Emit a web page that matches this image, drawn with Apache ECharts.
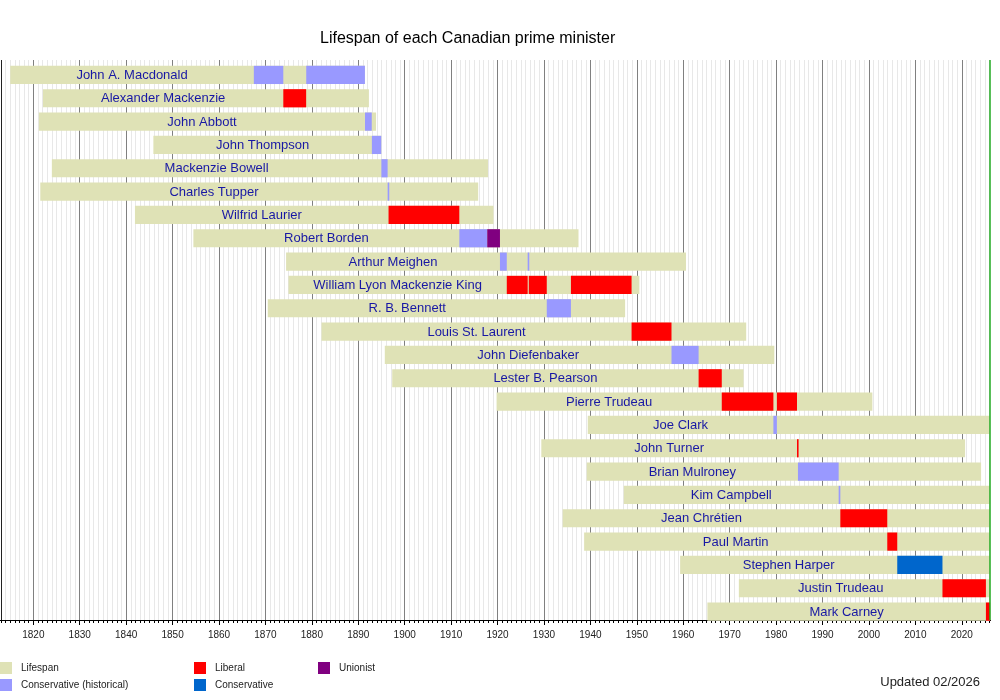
<!DOCTYPE html>
<html>
<head>
<meta charset="utf-8">
<title>Lifespan of each Canadian prime minister</title>
<script src="https://cdn.jsdelivr.net/npm/echarts@6/dist/echarts.min.js"></script>
<style>
  html, body { margin: 0; padding: 0; background: #fff; }
  #chart { width: 1000px; height: 700px; }
</style>
</head>
<body>
<div id="chart"></div>
<script>
// Prime ministers, top to bottom
const names = [
  'John A. Macdonald', 'Alexander Mackenzie', 'John Abbott', 'John Thompson',
  'Mackenzie Bowell', 'Charles Tupper', 'Wilfrid Laurier', 'Robert Borden',
  'Arthur Meighen', 'William Lyon Mackenzie King', 'R. B. Bennett', 'Louis St. Laurent',
  'John Diefenbaker', 'Lester B. Pearson', 'Pierre Trudeau', 'Joe Clark',
  'John Turner', 'Brian Mulroney', 'Kim Campbell', 'Jean Chrétien',
  'Paul Martin', 'Stephen Harper', 'Justin Trudeau', 'Mark Carney'
];

// 出生 / 去世（小数年份），null = 仍在世
const born = [
  1815.03, 1822.08, 1821.19, 1845.86, 1823.99, 1821.50, 1841.89, 1854.48,
  1874.45, 1874.96, 1870.50, 1882.08, 1895.71, 1897.31, 1919.79, 1939.43,
  1929.43, 1939.21, 1947.19, 1934.03, 1938.65, 1959.33, 1971.98, 1965.20
];
const died = [
  1891.43, 1892.29, 1893.83, 1894.95, 1917.94, 1915.83, 1919.13, 1937.44,
  1960.59, 1950.55, 1947.48, 1973.56, 1979.62, 1972.99, 2000.74, null,
  2020.72, 2024.16, null, null, null, null, null, null
];

const updated = 2026.1; // 02/2026

// Terms in office: [row, start, end]
const consHistorical = [
  [0, 1867.50, 1873.85], [0, 1878.79, 1891.43], [2, 1891.45, 1892.90],
  [3, 1892.93, 1894.95], [4, 1894.97, 1896.32], [5, 1896.33, 1896.52],
  [7, 1911.77, 1917.78], [8, 1920.52, 1921.99], [8, 1926.49, 1926.73],
  [10, 1930.60, 1935.81], [12, 1957.47, 1963.31], [15, 1979.42, 1980.17],
  [17, 1984.71, 1993.48], [18, 1993.48, 1993.84]
];
const liberal = [
  [1, 1873.85, 1878.77], [6, 1896.52, 1911.76], [9, 1921.99, 1926.49],
  [9, 1926.73, 1930.60], [9, 1935.81, 1948.87], [11, 1948.87, 1957.47],
  [13, 1963.31, 1968.30], [14, 1968.30, 1979.42], [14, 1980.17, 1984.50],
  [16, 1984.50, 1984.71], [19, 1993.84, 2003.95], [20, 2003.95, 2006.10],
  [22, 2015.84, 2025.20], [23, 2025.20, updated]
];
const unionist = [[7, 1917.78, 1920.52]];
const conservative = [[21, 2006.10, 2015.84]];

const colors = {
  lifespan: '#dfe2b6',
  consHistorical: '#9999ff',
  liberal: '#ff0000',
  unionist: '#800080',
  conservative: '#0066cc'
};

const FONT = '"Liberation Sans", Arial, Helvetica, sans-serif';

// label sits in the middle of the span before first taking office
const allTerms = [...consHistorical, ...liberal, ...unionist, ...conservative];
const firstTerm = names.map((_, i) =>
  Math.min(...allTerms.filter(t => t[0] === i).map(t => t[1])));

const lifeData = names.map((n, i) =>
  [i, born[i], died[i] == null ? updated : died[i], (born[i] + firstTerm[i]) / 2, n]);

const barRect = (api, s, e, idx) => {
  const p0 = api.coord([s, idx]);
  const p1 = api.coord([e, idx]);
  const band = api.size([0, 1])[1];
  return { x: p0[0], y: p0[1] - band * 0.25, width: Math.max(p1[0] - p0[0], 1.6), height: band * 0.78 };
};

const lifeSeries = {
  name: 'Lifespan',
  type: 'custom',
  itemStyle: { color: colors.lifespan },
  encode: { x: [1, 2], y: 0 },
  data: lifeData,
  z: 2,
  renderItem: (params, api) => {
    const idx = api.value(0);
    const r = barRect(api, api.value(1), api.value(2), idx);
    const lp = api.coord([api.value(3), idx]);
    return {
      type: 'group',
      children: [
        { type: 'rect', shape: r, style: { fill: colors.lifespan } },
        {
          type: 'text', z2: 10,
          style: {
            text: lifeData[params.dataIndex][4],
            x: lp[0], y: r.y + r.height / 2 + 0.5,
            align: 'center', verticalAlign: 'middle',
            fill: '#1818a4', font: '13px ' + FONT
          }
        }
      ]
    };
  }
};

const termSeries = (name, data, color) => ({
  name,
  type: 'custom',
  itemStyle: { color },
  encode: { x: [1, 2], y: 0 },
  data,
  z: 3,
  renderItem: (params, api) => ({
    type: 'rect',
    shape: barRect(api, api.value(1), api.value(2), api.value(0)),
    style: { fill: color }
  })
});

const legendBase = {
  orient: 'vertical',
  top: 662,
  padding: 0,
  itemWidth: 12,
  itemHeight: 12,
  itemGap: 5,
  icon: 'rect',
  selectedMode: false,
  textStyle: { fontSize: 10, color: '#222', fontFamily: FONT, padding: [0, 0, 0, 4] }
};

const chart = echarts.init(document.getElementById('chart'));
chart.setOption({
  animation: false,
  backgroundColor: '#fff',
  title: {
    text: 'Lifespan of each Canadian prime minister',
    left: 320,
    top: 31,
    padding: 0,
    textStyle: { fontSize: 16, fontWeight: 'normal', color: '#000', fontFamily: FONT }
  },
  legend: [
    { ...legendBase, left: 0, data: ['Lifespan', 'Conservative (historical)'] },
    { ...legendBase, left: 194, data: ['Liberal', 'Conservative'] },
    { ...legendBase, left: 318, data: ['Unionist'] }
  ],
  // axis runs 1810–2030 so decade ticks fall on round years; the edges sit off-canvas
  grid: { left: -13.1, right: -8.2, top: 60, bottom: 80, outerBoundsMode: 'none', containLabel: false },
  xAxis: {
    type: 'value',
    min: 1810,
    max: 2030,
    interval: 10,
    axisLine: { show: true, lineStyle: { color: '#000', width: 1 } },
    axisTick: { show: true, length: 5, lineStyle: { color: '#000' } },
    minorTick: { show: true, splitNumber: 10, length: 3, lineStyle: { color: '#000' } },
    axisLabel: { fontSize: 10, color: '#222', fontFamily: FONT, margin: 10, formatter: v => String(v) },
    splitLine: { show: true, lineStyle: { color: '#808080', width: 1 } },
    minorSplitLine: { show: true, lineStyle: { color: '#e8e8e8', width: 1 } }
  },
  yAxis: {
    type: 'category',
    data: names,
    inverse: true,
    axisLine: { show: false },
    axisTick: { show: false },
    axisLabel: { show: false },
    splitLine: { show: false }
  },
  series: [
    {
      ...lifeSeries,
      markLine: {
        silent: true,
        symbol: 'none',
        label: { show: false },
        data: [
          { xAxis: 1813.15, lineStyle: { color: '#222', width: 1, type: 'solid' } },
          { xAxis: updated, lineStyle: { color: '#22aa22', width: 1.5, type: 'solid' } }
        ]
      }
    },
    termSeries('Conservative (historical)', consHistorical, colors.consHistorical),
    termSeries('Liberal', liberal, colors.liberal),
    termSeries('Conservative', conservative, colors.conservative),
    termSeries('Unionist', unionist, colors.unionist)
  ],
  graphic: [
    // hide the part of the axis past the update date
    { type: 'rect', z: 100, shape: { x: 991, y: 50, width: 20, height: 600 }, style: { fill: '#fff' } },
    {
      type: 'text', z: 100,
      style: { text: 'Updated 02/2026', x: 980, y: 682, align: 'right', verticalAlign: 'middle',
               fill: '#222', font: '13px ' + FONT }
    }
  ]
});
</script>
</body>
</html>
